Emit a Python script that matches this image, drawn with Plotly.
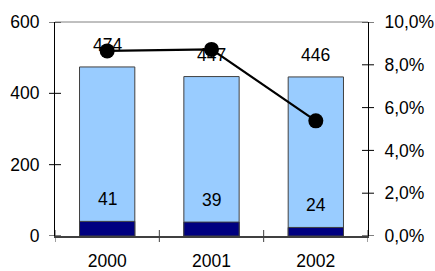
import plotly.graph_objects as go

years = ["2000", "2001", "2002"]
totals = [474, 447, 446]
small = [41, 39, 24]
share = [0.0865, 0.0872, 0.0538]

left_ticks = [0, 200, 400, 600]
right_ticks = [0, 0.02, 0.04, 0.06, 0.08, 0.10]

FONT = dict(family="Liberation Sans, Arial, sans-serif", size=17.5, color="black")

fig = go.Figure()
fig.add_trace(go.Bar(x=years, y=totals, width=0.53, marker=dict(color="#99CCFF", line=dict(color="#404040", width=1)),
                     yaxis="y", showlegend=False, hoverinfo="skip"))
fig.add_trace(go.Bar(x=years, y=small, width=0.53, marker=dict(color="#000080", line=dict(color="#404040", width=1)),
                     yaxis="y", showlegend=False, hoverinfo="skip"))
fig.add_trace(go.Scatter(x=years, y=share, yaxis="y2", mode="lines+markers",
                         line=dict(color="black", width=2.2), marker=dict(color="black", size=15),
                         showlegend=False, hoverinfo="skip"))

annotations = []
for i, t in enumerate(totals):
    annotations.append(dict(x=i, y=t, xref="x", yref="y", text=str(t), showarrow=False,
                            yshift=22, font=FONT))
for i, s in enumerate(small):
    annotations.append(dict(x=i, y=s, xref="x", yref="y", text=str(s), showarrow=False,
                            yshift=22, font=FONT))

shapes = [dict(type="line", xref="paper", yref="paper", x0=0, x1=1, y0=1, y1=1,
               line=dict(color="#808080", width=1))]
# crossing tick marks (Excel style)
for v in left_ticks:
    shapes.append(dict(type="line", xref="paper", yref="y", xsizemode="pixel", xanchor=0,
                       x0=-6, x1=6, y0=v, y1=v, line=dict(color="black", width=1)))
for v in right_ticks:
    shapes.append(dict(type="line", xref="paper", yref="y2", xsizemode="pixel", xanchor=1,
                       x0=-6, x1=6, y0=v, y1=v, line=dict(color="black", width=1)))
for b in [i - 0.5 for i in range(len(years) + 1)]:
    shapes.append(dict(type="line", xref="x", yref="paper", ysizemode="pixel", yanchor=0,
                       x0=b, x1=b, y0=-6, y1=6, line=dict(color="#404040", width=1)))

fig.update_layout(
    width=435, height=271, autosize=False,
    margin=dict(l=55, r=67, t=22, b=35, pad=0),
    paper_bgcolor="white", plot_bgcolor="white",
    barmode="overlay",
    separators=", ",
    font=FONT,
    annotations=annotations,
    shapes=shapes,
    xaxis=dict(type="category", showgrid=False, zeroline=False, showline=True, linecolor="#404040", linewidth=1.5,
               ticks="", tickfont=FONT, ticklabelstandoff=8, range=[-0.5, 2.5], automargin=False),
    yaxis=dict(range=[0, 600], tickvals=left_ticks, showgrid=False, zeroline=False, showline=True,
               linecolor="black", linewidth=1, ticks="outside", ticklen=11, tickcolor="rgba(0,0,0,0)",
               tickfont=FONT, automargin=False),
    yaxis2=dict(overlaying="y", side="right", anchor="x", range=[0, 0.10], tickvals=right_ticks,
                tickformat=".1%", showgrid=False, zeroline=False, showline=True, linecolor="black", linewidth=1,
                ticks="outside", ticklen=12, tickcolor="rgba(0,0,0,0)", tickfont=FONT, automargin=False),
)

fig.write_html("out.html", config={"displayModeBar": False, "staticPlot": True},
               post_script="document.body.style.margin='0';document.body.style.overflow='hidden';")
